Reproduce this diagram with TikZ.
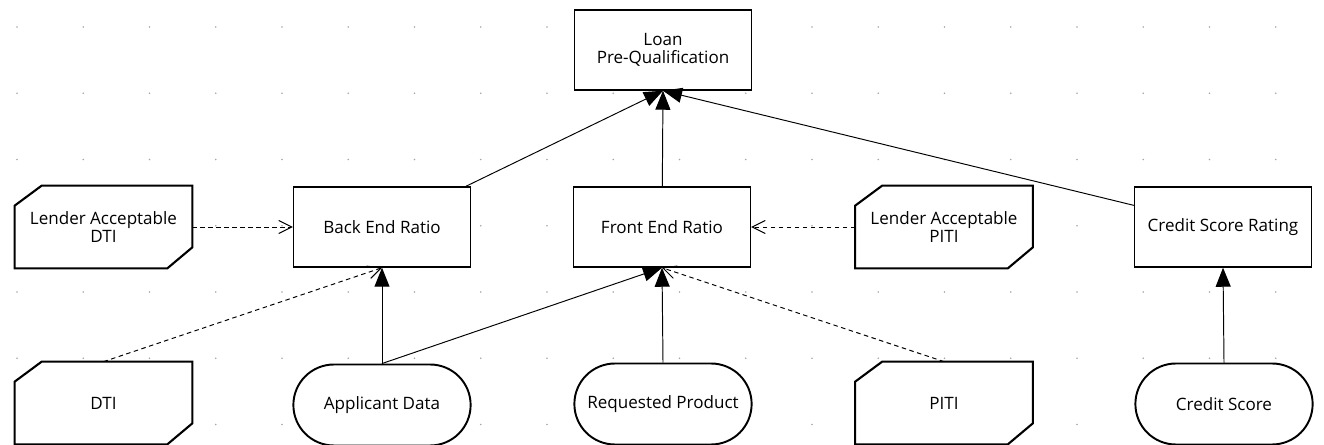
\documentclass[tikz,border=0pt]{standalone}
\usepackage{fontspec}
\setmainfont{Open Sans}
\usetikzlibrary{shapes.misc,arrows.meta}

\tikzset{
  decision/.style={rectangle, draw, fill=white, line width=0.85pt, minimum width=3.54cm, minimum height=1.6cm, align=center},
  inputdata/.style={rounded rectangle, draw, fill=white, line width=1.1pt, minimum width=3.78cm, minimum height=1.62cm, align=center},
  bkm/.style={rectangle, fill=white, minimum width=3.54cm, minimum height=1.64cm, align=center},
  bkmline/.style={line width=1.2pt, line join=miter},
  req/.style={line width=0.55pt, -{Triangle[length=3.8mm,width=3mm]}},
  knowreq/.style={line width=0.55pt, dash pattern=on 0.9mm off 0.7mm, -{Straight Barb[length=2.6mm,width=2.6mm]}}
}

\begin{document}
\begin{tikzpicture}[x=0.02cm, y=-0.02cm, every node/.style={font=\fontsize{9.7}{10}\selectfont}]
  \useasboundingbox (0,0) rectangle (1324,445);
  \foreach \i in {0,...,19}
    \foreach \j in {0,...,6}
      \fill[black!35] (17+66.25*\i, 27+66.25*\j) circle[radius=0.5pt];

  \node[decision] (loan) at (663,50) {Loan\\Pre-Qualification};
  \node[decision] (backend) at (382,227) {Back End Ratio};
  \node[decision] (frontend) at (662,227) {Front End Ratio};
  \node[decision] (rating) at (1223,227) {Credit Score Rating};

  \node[bkm] (lenderdti) at (103.5,227) {Lender Acceptable\\DTI};
  \node[bkm] (lenderpiti) at (944,227) {Lender Acceptable\\PITI};
  \node[bkm] (dti) at (103.5,403) {DTI};
  \node[bkm] (piti) at (944,403) {PITI};
  \foreach \n in {lenderdti,lenderpiti,dti,piti}
    \draw[bkmline] ([xshift=0.54cm]\n.north west) -- (\n.north east)
      -- ([yshift=0.42cm]\n.south east) -- ([xshift=-0.5cm]\n.south east)
      -- (\n.south west) -- ([yshift=-0.4cm]\n.north west) -- cycle;

  \node[inputdata] (applicant) at (382,405) {Applicant Data};
  \node[inputdata] (product) at (663,404) {Requested Product};
  \node[inputdata] (score) at (1224,404) {Credit Score};

  \draw[req] (backend) -- (loan.south);
  \draw[req] (frontend) -- (loan.south);
  \draw[req] (rating) -- (loan.south);
  \draw[req] (applicant.north) -- (backend.south);
  \draw[req] (applicant.north) -- (frontend.south);
  \draw[req] (product.north) -- (frontend.south);
  \draw[req] (score.north) -- (rating.south);

  \draw[knowreq] (lenderdti) -- (backend);
  \draw[knowreq] (lenderpiti) -- (frontend);
  \draw[knowreq] (dti.north) -- (backend.south);
  \draw[knowreq] (piti.north) -- (frontend.south);
\end{tikzpicture}
\end{document}
